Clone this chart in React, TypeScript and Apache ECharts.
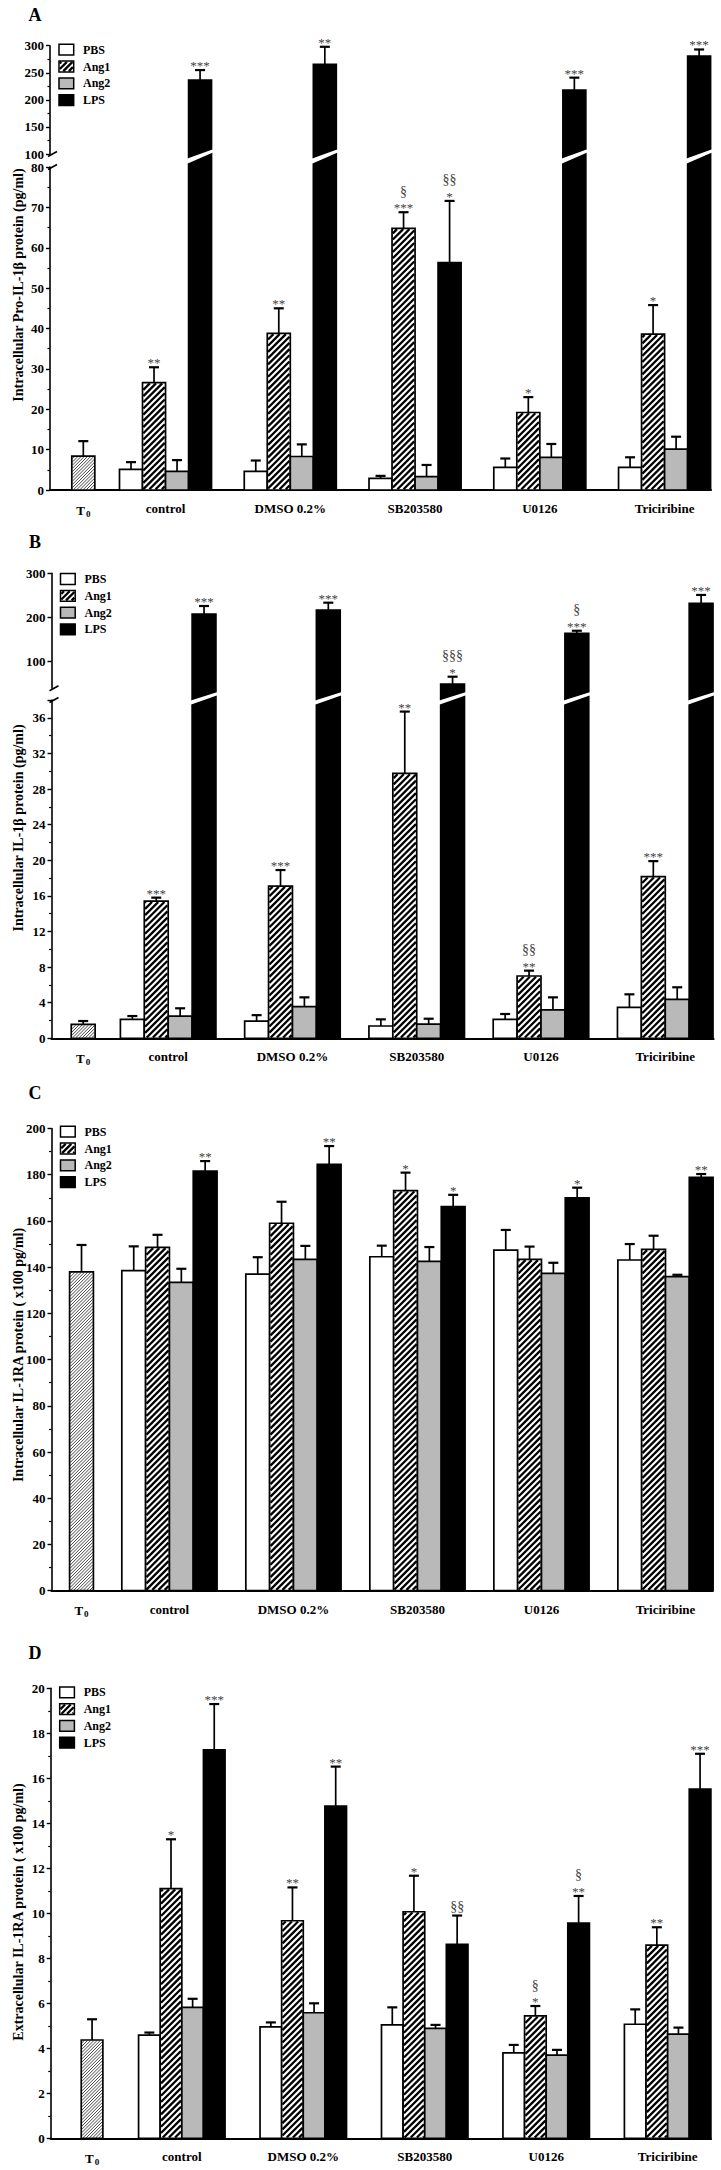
import React, { useEffect, useRef } from "react";
import * as echarts from "echarts";

const FONT = '"Liberation Serif", "Times New Roman", serif';

const groups = ["control", "DMSO 0.2%", "SB203580", "U0126", "Triciribine"];
const legendNames = ["PBS", "Ang1", "Ang2", "LPS"];

// ---------- Panel A : Intracellular Pro-IL-1β (pg/ml)
const aT0 = 8.4;
const aT0Sem = 3.7;
const aPBS = [5.1, 4.6, 2.9, 5.6, 5.6];
const aPBSSem = [1.8, 2.7, 0.6, 2.2, 2.5];
const aAng1 = [26.6, 38.8, 64.8, 19.2, 38.6];
const aAng1Sem = [3.8, 6.2, 4.0, 3.8, 7.2];
const aAng2 = [4.6, 8.3, 3.3, 8.1, 10.1];
const aAng2Sem = [2.8, 3.0, 2.9, 3.3, 3.1];
const aLPS = [236.7, 265.6, 56.3, 218, 281];
const aLPSSem = [18.3, 32.4, 15.3, 23, 12];
const aAng1Sig = ["**", "**", "§\n***", "*", "*"];
const aLPSSig = ["***", "**", "§§\n*", "***", "***"];

// ---------- Panel B : Intracellular IL-1β (pg/ml)
const bT0 = 1.57;
const bT0Sem = 0.37;
const bPBS = [2.13, 1.94, 1.38, 2.13, 3.48];
const bPBSSem = [0.37, 0.66, 0.75, 0.6, 1.46];
const bAng1 = [15.4, 17.1, 29.75, 7.0, 18.15];
const bAng1Sem = [0.4, 1.8, 6.95, 0.6, 1.75];
const bAng2 = [2.5, 3.55, 1.6, 3.2, 4.38];
const bAng2Sem = [0.87, 1.05, 0.6, 1.4, 1.35];
const bLPS = [208, 217, 49.5, 164, 232];
const bLPSSem = [18, 16.5, 16.5, 6, 19];
const bAng1Sig = ["***", "***", "**", "§§\n**", "***"];
const bLPSSig = ["***", "***", "§§§\n*", "§\n***", "***"];

// ---------- Panel C : Intracellular IL-1RA (x100 pg/ml)
const cT0 = 138;
const cT0Sem = 11.6;
const cPBS = [138.5, 137, 144.5, 147.4, 143.1];
const cPBSSem = [10.5, 7.3, 4.8, 8.7, 6.9];
const cAng1 = [148.6, 159, 173.1, 143.4, 147.7];
const cAng1Sem = [5.4, 9.3, 7.8, 5.5, 5.9];
const cAng2 = [133.4, 143.4, 142.5, 137.3, 135.9];
const cAng2Sem = [5.9, 5.8, 6.2, 4.6, 0.8];
const cLPS = [181.6, 184.5, 166.2, 170, 178.9];
const cLPSSem = [4.3, 7.9, 5.1, 4.4, 1.4];
const cAng1Sig = ["", "", "*", "", ""];
const cLPSSig = ["**", "**", "*", "*", "**"];

// ---------- Panel D : Extracellular IL-1RA (x100 pg/ml)
const dT0 = 4.37;
const dT0Sem = 0.92;
const dPBS = [4.59, 4.95, 5.04, 3.8, 5.07];
const dPBSSem = [0.11, 0.2, 0.78, 0.35, 0.66];
const dAng1 = [11.1, 9.67, 10.07, 5.44, 8.59];
const dAng1Sem = [2.19, 1.48, 1.6, 0.44, 0.79];
const dAng2 = [5.82, 5.58, 4.89, 3.7, 4.63];
const dAng2Sem = [0.38, 0.42, 0.15, 0.23, 0.29];
const dLPS = [17.26, 14.77, 8.62, 9.56, 15.52];
const dLPSSem = [2.04, 1.75, 1.28, 1.21, 1.57];
const dAng1Sig = ["*", "**", "*", "§\n*", "**"];
const dLPSSig = ["***", "**", "§§", "§\n**", "***"];

const noSig = ["", "", "", "", ""];

const panelData = [
  { t0: aT0, t0Sem: aT0Sem, vals: [aPBS, aAng1, aAng2, aLPS], sems: [aPBSSem, aAng1Sem, aAng2Sem, aLPSSem], sigs: [noSig, aAng1Sig, noSig, aLPSSig] },
  { t0: bT0, t0Sem: bT0Sem, vals: [bPBS, bAng1, bAng2, bLPS], sems: [bPBSSem, bAng1Sem, bAng2Sem, bLPSSem], sigs: [noSig, bAng1Sig, noSig, bLPSSig] },
  { t0: cT0, t0Sem: cT0Sem, vals: [cPBS, cAng1, cAng2, cLPS], sems: [cPBSSem, cAng1Sem, cAng2Sem, cLPSSem], sigs: [noSig, cAng1Sig, noSig, cLPSSig] },
  { t0: dT0, t0Sem: dT0Sem, vals: [dPBS, dAng1, dAng2, dLPS], sems: [dPBSSem, dAng1Sem, dAng2Sem, dLPSSem], sigs: [noSig, dAng1Sig, noSig, dLPSSig] },
];

// ---------- layout (positions only)
const panelLayouts: any[] = [
  {
    letter: "A", left: 50, width: 661, xMin: 0.074, xMax: 5.372, t0: 0.341, barW: 0.1845,
    upper: { top: 45.7, height: 108.3, min: 100, max: 300, interval: 50 },
    lower: { top: 167, height: 323, min: 0, max: 80, interval: 10 },
    lowSlash: [-3, -13], upSlash: [3.3, -5],
    letterY: 15, titleY: 285, legendY: 49.7,
    title: "Intracellular Pro-IL-1β protein (pg/ml)",
  },
  {
    letter: "B", left: 51.5, width: 662.1, xMin: 0.061, xMax: 5.389, t0: 0.316, barW: 0.1923,
    upper: { top: 573.3, height: 114.9, min: 40, max: 300, labels: [100, 200, 300] },
    lower: { top: 700, height: 338.3, min: 0, max: 38, interval: 4 },
    lowSlash: [5, -3.3], upSlash: [11.1, 3.5],
    letterY: 541.7, titleY: 828, legendY: 579,
    title: "Intracellular IL-1β protein (pg/ml)",
  },
  {
    letter: "C", left: 51.5, width: 661.1, xMin: 0.049, xMax: 5.38, t0: 0.291, barW: 0.192,
    lower: { top: 1128.5, height: 462.2, min: 0, max: 200, interval: 20 },
    letterY: 1093, titleY: 1355, legendY: 1131.7,
    title: "Intracellular IL-1RA protein ( x100 pg/ml)",
  },
  {
    letter: "D", left: 50.7, width: 660.3, xMin: -0.0795, xMax: 5.357, t0: 0.261, barW: 0.178,
    lower: { top: 1688.3, height: 450, min: 0, max: 20, interval: 2 },
    letterY: 1653, titleY: 1912, legendY: 1692.3,
    title: "Extracellular IL-1RA protein ( x100 pg/ml)",
  },
];

// kind: 0 T0, 1 PBS, 2 Ang1, 3 Ang2, 4 LPS
const FILLS = ["#ffffff", "#ffffff", "#ffffff", "#b9b9b9", "#000000"];

function hatchLines(x0: number, y0: number, x1: number, y1: number, s: number, lw: number, color: string) {
  const out: any[] = [];
  const cStart = Math.ceil((x0 + y0) / s) * s;
  for (let c = cStart; c < x1 + y1; c += s) {
    const xa = Math.max(x0, c - y1);
    const xb = Math.min(x1, c - y0);
    if (xb - xa > 0.3) {
      out.push({
        type: "line",
        shape: { x1: xa, y1: c - xa, x2: xb, y2: c - xb },
        style: { stroke: color, lineWidth: lw },
      });
    }
  }
  return out;
}

function hatchFor(kind: number, x0: number, y0: number, x1: number, y1: number) {
  if (kind === 2) return hatchLines(x0 + 0.8, y0 + 0.8, x1 - 0.8, y1 - 0.8, 6.2, 2.3, "#000");
  if (kind === 0) return hatchLines(x0 + 0.6, y0 + 0.6, x1 - 0.6, y1 - 0.6, 3.2, 0.9, "#333");
  return [];
}

function sigTexts(sig: string, cx: number, ye: number) {
  if (!sig) return [];
  const lines = sig.split("\n").reverse();
  const out: any[] = [];
  let cur = ye;
  lines.forEach((ln) => {
    const isStar = ln.charAt(0) === "*";
    out.push({
      type: "text",
      style: {
        text: ln,
        x: cx,
        y: isStar ? cur + 2 : cur - 2,
        align: "center",
        verticalAlign: "bottom",
        fontFamily: FONT,
        fontSize: isStar ? 13 : 14,
        fill: "#444",
      },
    });
    cur -= isStar ? 12 : 15;
  });
  return out;
}

function makeRenderItem(kind: number, metas: any[], cfg: any, role: string, P: any) {
  return (params: any, api: any) => {
    const m = metas[params.dataIndex];
    const x = api.value(0);
    const v = api.value(1);
    const w = api.size([P.barW, 0])[0];
    const basePt = api.coord([x, cfg.min]);
    const cx = basePt[0];
    const yBase = basePt[1];
    const x0 = cx - w / 2;
    const x1 = cx + w / 2;
    const children: any[] = [];
    let drawTop = true;
    let pts: number[][] | null = null;
    let top = 0;
    if (role === "upper") {
      if (v <= cfg.min) return null;
      top = api.coord([x, v])[1];
      pts = [[x0, yBase + P.upSlash[0]], [x1, yBase + P.upSlash[1]], [x1, top], [x0, top]];
    } else if (role === "lower" && v > cfg.max) {
      const yT = api.coord([x, cfg.max])[1];
      pts = [[x0, yBase], [x1, yBase], [x1, yT + P.lowSlash[1]], [x0, yT + P.lowSlash[0]]];
      drawTop = false;
    } else {
      top = api.coord([x, v])[1];
    }
    const fill = FILLS[kind];
    if (pts) {
      children.push({ type: "polygon", shape: { points: pts }, style: { fill, stroke: "#000", lineWidth: 1.6 } });
    } else {
      children.push({ type: "rect", shape: { x: x0, y: top, width: w, height: yBase - top }, style: { fill, stroke: null } });
      hatchFor(kind, x0, top, x1, yBase).forEach((h) => children.push(h));
      children.push({
        type: "rect",
        shape: { x: x0, y: top, width: w, height: yBase - top },
        style: { fill: "none", stroke: "#000", lineWidth: 1.7 },
      });
    }
    if (drawTop && m.sem > 0) {
      const ye = api.coord([x, v + m.sem])[1];
      children.push({ type: "line", shape: { x1: cx, y1: top, x2: cx, y2: ye }, style: { stroke: "#000", lineWidth: 1.7 } });
      children.push({ type: "line", shape: { x1: cx - 5, y1: ye, x2: cx + 5, y2: ye }, style: { stroke: "#000", lineWidth: 2.2 } });
      sigTexts(m.sig, cx, ye).forEach((t) => children.push(t));
    }
    return { type: "group", children };
  };
}

function yAxisOpt(gridIndex: number, cfg: any) {
  const base: any = {
    type: "value",
    gridIndex,
    min: cfg.min,
    max: cfg.max,
    axisLine: { show: true, onZero: false, lineStyle: { color: "#000", width: 1.6 } },
    axisTick: { show: true, length: 4, lineStyle: { color: "#000", width: 1.4 } },
    axisLabel: { color: "#000", fontFamily: FONT, fontWeight: "bold", fontSize: 13, margin: 6 },
    splitLine: { show: false },
  };
  if (cfg.labels) {
    base.axisLabel.customValues = cfg.labels;
    base.axisTick.customValues = cfg.labels;
  } else {
    base.interval = cfg.interval;
    base.minorTick = { show: true, splitNumber: 2, length: 2.5, lineStyle: { color: "#000", width: 1.2 } };
    base.axisLabel.formatter = (val: number) => (Math.abs(val / cfg.interval - Math.round(val / cfg.interval)) < 1e-6 ? String(val) : "");
  }
  return base;
}

function xAxisOpt(gridIndex: number, P: any, show: boolean) {
  return {
    type: "value",
    gridIndex,
    min: P.xMin,
    max: P.xMax,
    show,
    axisLine: { show: true, onZero: false, lineStyle: { color: "#000", width: 2 } },
    axisTick: { show: false },
    splitLine: { show: false },
    axisLabel: {
      customValues: [P.t0, 1, 2, 3, 4, 5],
      margin: 12,
      color: "#000",
      fontFamily: FONT,
      fontWeight: "bold",
      fontSize: 13,
      formatter: (val: number) => {
        if (Math.abs(val - P.t0) < 1e-6) return "{t|T}{s|0}";
        const i = Math.round(val) - 1;
        return groups[i] || "";
      },
      rich: {
        t: { fontFamily: FONT, fontWeight: "bold", fontSize: 13, color: "#000" },
        s: { fontFamily: FONT, fontWeight: "bold", fontSize: 9, color: "#000", padding: [7, 0, 0, 1] },
      },
    },
  };
}

function legendGraphics(P: any) {
  const out: any[] = [];
  const bx = P.left + 9;
  legendNames.forEach((name, k) => {
    const kind = k + 1;
    const cy = P.legendY + k * 16.8;
    const y0 = cy - 5.4;
    out.push({ type: "rect", shape: { x: bx, y: y0, width: 14.7, height: 10.8 }, style: { fill: FILLS[kind], stroke: null } });
    if (kind === 2) hatchLines(bx + 0.8, y0 + 0.8, bx + 13.9, y0 + 10, 5.6, 2.3, "#000").forEach((h) => out.push(h));
    out.push({ type: "rect", shape: { x: bx, y: y0, width: 14.7, height: 10.8 }, style: { fill: "none", stroke: "#000", lineWidth: 1.5 } });
    out.push({
      type: "text",
      style: { text: name, x: P.left + 33, y: cy, align: "left", verticalAlign: "middle", fontFamily: FONT, fontWeight: "bold", fontSize: 12, fill: "#000" },
    });
  });
  return out;
}

function buildOption() {
  const grid: any[] = [];
  const xAxis: any[] = [];
  const yAxis: any[] = [];
  const series: any[] = [];
  const graphic: any[] = [];

  panelLayouts.forEach((P, pi) => {
    const D = panelData[pi];
    const roles: any[] = [];
    if (P.upper) roles.push({ role: "upper", cfg: P.upper });
    roles.push({ role: P.upper ? "lower" : "single", cfg: P.lower });

    roles.forEach((r) => {
      const gi = grid.length;
      grid.push({ left: P.left, top: r.cfg.top, width: P.width, height: r.cfg.height, containLabel: false });
      xAxis.push(xAxisOpt(gi, P, r.role !== "upper"));
      yAxis.push(yAxisOpt(gi, r.cfg));

      // T0 bar
      if (r.role !== "upper") {
        series.push({
          type: "custom",
          name: "T0",
          xAxisIndex: gi,
          yAxisIndex: gi,
          clip: false,
          data: [[P.t0, D.t0]],
          renderItem: makeRenderItem(0, [{ sem: D.t0Sem, sig: "" }], r.cfg, r.role, P),
        });
      }
      for (let s = 0; s < 4; s++) {
        if (r.role === "upper" && s !== 3) continue;
        const data = D.vals[s].map((v: number, g: number) => [g + 1 + (s - 1.5) * P.barW, v]);
        const metas = D.vals[s].map((_: number, g: number) => ({ sem: D.sems[s][g], sig: D.sigs[s][g] }));
        series.push({
          type: "custom",
          name: legendNames[s],
          xAxisIndex: gi,
          yAxisIndex: gi,
          clip: false,
          data,
          renderItem: makeRenderItem(s + 1, metas, r.cfg, r.role, P),
        });
      }
    });

    // panel letter
    graphic.push({
      type: "text",
      style: { text: P.letter, x: 35, y: P.letterY, align: "center", verticalAlign: "middle", fontFamily: FONT, fontWeight: "bold", fontSize: 18, fill: "#000" },
    });
    // y title
    graphic.push({
      type: "text",
      x: 18,
      y: P.titleY,
      rotation: Math.PI / 2,
      style: { text: P.title, x: 0, y: 0, align: "center", verticalAlign: "middle", fontFamily: FONT, fontWeight: "bold", fontSize: 14, fill: "#000" },
    });
    legendGraphics(P).forEach((g) => graphic.push(g));
    // axis break marks
    if (P.upper) {
      const yb = P.upper.top + P.upper.height;
      const yt = P.lower.top;
      [yb, yt].forEach((yy) => {
        graphic.push({
          type: "line",
          shape: { x1: P.left - 2, y1: yy + 2.5, x2: P.left + 7, y2: yy - 2.5 },
          style: { stroke: "#000", lineWidth: 1.6 },
        });
      });
    }
  });

  return { animation: false, backgroundColor: "#ffffff", grid, xAxis, yAxis, series, graphic };
}

export default function App() {
  const ref = useRef<HTMLDivElement>(null);
  useEffect(() => {
    if (!ref.current) return;
    const chart = echarts.init(ref.current, null, { renderer: "svg" });
    chart.setOption(buildOption() as any);
    return () => chart.dispose();
  }, []);
  return <div ref={ref} style={{ position: "absolute", left: 0, top: 0, width: 721, height: 2170 }} />;
}
